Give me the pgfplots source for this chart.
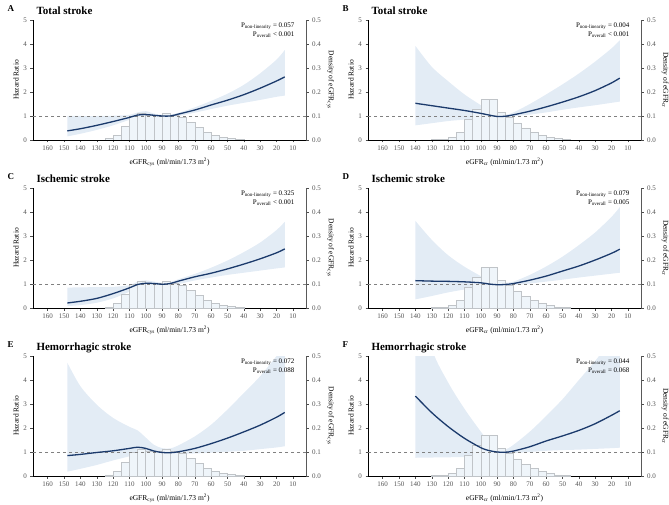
\documentclass[border=0pt]{standalone}
\usepackage{fontspec}
\setmainfont{Liberation Serif}
\usepackage{pgfplots}
\usepackage{pgfplotstable}
\pgfplotsset{compat=1.18}
\usepgfplotslibrary{fillbetween}

\definecolor{navy}{HTML}{1B3A6B}
\definecolor{bandblue}{HTML}{DCE7F3}
\definecolor{histfill}{HTML}{EFF5FA}
\definecolor{histedge}{HTML}{C0C4C8}
\definecolor{ticktext}{HTML}{555555}

% histograms (left edge of 5-unit bin, density)
\pgfplotstableread{
x d
40 0.003
45 0.006
50 0.012
55 0.020
60 0.032
65 0.053
70 0.072
75 0.094
80 0.104
85 0.110
90 0.104
95 0.104
100 0.110
105 0.100
110 0.056
115 0.020
120 0.005
125 0
}\histcys

\pgfplotstableread{
x d
45 0.002
50 0.005
55 0.010
60 0.018
65 0.031
70 0.050
75 0.071
80 0.094
85 0.116
90 0.168
95 0.168
100 0.130
105 0.085
110 0.033
115 0.010
120 0.004
125 0.002
130 0
}\histcr

% spline curves: eGFR, HR, lower CI, upper CI
\pgfplotstableread{
x hr lo hi
148 0.38 0.15 1.00
140 0.47 0.26 1.00
130 0.61 0.42 1.00
120 0.77 0.61 1.01
110 0.94 0.84 1.05
105 1.04 0.93 1.15
100 1.06 0.97 1.20
95 1.03 0.96 1.10
90 1.00 0.95 1.05
85 1.00 0.96 1.06
80 1.08 1.00 1.13
70 1.25 1.14 1.36
60 1.46 1.29 1.63
50 1.66 1.43 1.93
40 1.89 1.55 2.30
30 2.16 1.67 2.78
20 2.46 1.80 3.35
15 2.63 1.85 3.75
}\curveA

\pgfplotstableread{
x hr lo hi
140 1.53 0.61 3.92
130 1.43 0.70 3.05
120 1.33 0.79 2.45
110 1.23 0.85 1.90
100 1.11 0.90 1.45
95 1.04 0.92 1.22
90 0.98 0.92 1.06
85 0.99 0.95 1.05
80 1.05 0.99 1.15
70 1.20 1.06 1.50
60 1.38 1.15 1.90
50 1.58 1.26 2.32
40 1.80 1.36 2.77
30 2.06 1.45 3.27
20 2.38 1.55 3.82
15 2.58 1.60 4.15
}\curveB

\pgfplotstableread{
x hr lo hi
148 0.21 0.08 0.85
140 0.28 0.12 0.86
130 0.40 0.22 0.87
120 0.60 0.40 0.88
110 0.84 0.68 0.95
105 0.98 0.86 1.10
100 1.03 0.92 1.15
95 1.02 0.94 1.10
90 0.99 0.93 1.05
85 1.02 0.96 1.08
80 1.12 1.00 1.20
70 1.30 1.15 1.42
60 1.45 1.27 1.68
50 1.63 1.38 1.98
40 1.83 1.47 2.33
30 2.05 1.56 2.73
20 2.30 1.65 3.25
15 2.46 1.69 3.59
}\curveC

\pgfplotstableread{
x hr lo hi
140 1.14 0.36 3.63
130 1.12 0.50 2.84
120 1.11 0.65 2.20
110 1.09 0.77 1.72
100 1.05 0.85 1.33
95 1.00 0.88 1.16
90 0.97 0.90 1.05
85 0.98 0.92 1.05
80 1.02 0.95 1.10
70 1.16 1.02 1.38
60 1.33 1.10 1.73
50 1.54 1.18 2.14
40 1.75 1.27 2.62
30 2.00 1.35 3.15
20 2.28 1.43 3.80
15 2.45 1.47 4.20
}\curveD

\pgfplotstableread{
x hr lo hi
148 0.85 0.18 4.72
140 0.90 0.30 3.74
130 0.98 0.46 2.97
120 1.05 0.65 2.42
110 1.15 0.82 2.05
105 1.20 0.90 1.90
100 1.15 0.93 1.60
95 1.04 0.94 1.30
90 0.98 0.93 1.16
85 0.97 0.92 1.15
80 1.01 0.92 1.28
70 1.15 0.94 1.65
60 1.35 0.97 2.14
50 1.58 1.01 2.77
40 1.84 1.05 3.46
30 2.12 1.12 4.16
20 2.45 1.19 5.00
15 2.65 1.24 5.40
}\curveE

\pgfplotstableread{
x hr lo hi
140 3.33 0.76 8.00
130 2.64 0.77 5.30
120 2.06 0.78 3.90
110 1.57 0.79 2.80
100 1.18 0.82 1.85
95 1.06 0.85 1.42
90 1.00 0.88 1.12
85 0.99 0.91 1.10
80 1.04 0.95 1.30
70 1.22 1.00 1.85
60 1.46 1.05 2.50
50 1.67 1.08 3.20
40 1.90 1.10 4.00
30 2.18 1.13 4.80
20 2.53 1.16 5.70
15 2.72 1.18 6.20
}\curveF

\pgfplotsset{
  common/.style={
    scale only axis, width=273pt, height=120pt,
    xmin=2, xmax=169, x dir=reverse,
    tick align=outside, major tick length=2.5pt,
    axis line style={-},
    tick style={black!70, line width=0.5pt},
    ticklabel style={font=\fontsize{7}{8}\selectfont, text=ticktext},
    /pgf/number format/assume math mode=true,
    label style={font=\fontsize{7.5}{9}\selectfont},
  },
  histax/.style={common,
    ymin=0, ymax=0.5,
    axis y line*=right, axis x line=none,
    ytick={0,0.1,0.2,0.3,0.4,0.5},
    yticklabel style={/pgf/number format/.cd, fixed, fixed zerofill, precision=1},
    y axis line style={black!65, line width=0.8pt},
    ylabel style={rotate=180}, ylabel shift=-1pt,
  },
  hrax/.style={common,
    ymin=0, ymax=5, clip mode=individual,
    axis y line*=left, axis x line*=bottom,
    ytick={0,1,2,3,4,5},
    xtick={10,20,...,160},
    axis line style={black, line width=0.8pt},
    ylabel={Hazard Ratio}, ylabel shift=-2pt,
  },
}

% #1 x, #2 y, #3 letter, #4 title, #5 curve, #6 histogram, #7 subscript, #8 #9 p values
\newcommand{\panel}[9]{%
  \begin{axis}[histax, at={(#1pt,#2pt)}, ylabel={Density of eGFR\textsubscript{#7}}]
    \addplot[ybar interval, fill=histfill, draw=histedge, line width=0.6pt] table[x=x, y=d] {#6};
  \end{axis}
  \begin{axis}[hrax, at={(#1pt,#2pt)}, xlabel={eGFR\textsubscript{#7} (ml/min/1.73 m\textsuperscript{2})}]
    \addplot[name path=hi, draw=none, smooth] table[x=x, y=hi] {#5};
    \addplot[name path=lo, draw=none, smooth] table[x=x, y=lo] {#5};
    \addplot[bandblue, fill opacity=0.8] fill between[of=hi and lo];
    \addplot[gray, line width=0.8pt, dash pattern=on 3.5pt off 2.5pt] coordinates {(2,1) (169,1)};
    \addplot[navy, line width=1.3pt, smooth] table[x=x, y=hr] {#5};
    \node[anchor=base west, font=\bfseries\fontsize{9}{10}\selectfont, xshift=-29pt, yshift=9pt] at (axis description cs:0,1) {#3};
    \node[anchor=base west, font=\bfseries\fontsize{11}{12}\selectfont, yshift=6pt] at (axis description cs:0,1) {#4};
    \node[anchor=base east, font=\fontsize{7}{8}\selectfont, xshift=-8pt, yshift=-7pt] at (axis description cs:1,1) {#8};
    \node[anchor=base east, font=\fontsize{7}{8}\selectfont, xshift=-8pt, yshift=-16.5pt] at (axis description cs:1,1) {#9};
  \end{axis}
}

\begin{document}
\begin{tikzpicture}
\panel{33}{-140}{A}{Total stroke}{\curveA}{\histcys}{cys}{P\textsubscript{non-linearity} = 0.057}{P\textsubscript{overall} < 0.001}
\panel{368}{-140}{B}{Total stroke}{\curveB}{\histcr}{cr}{P\textsubscript{non-linearity} = 0.004}{P\textsubscript{overall} < 0.001}
\panel{33}{-308}{C}{Ischemic stroke}{\curveC}{\histcys}{cys}{P\textsubscript{non-linearity} = 0.325}{P\textsubscript{overall} < 0.001}
\panel{368}{-308}{D}{Ischemic stroke}{\curveD}{\histcr}{cr}{P\textsubscript{non-linearity} = 0.079}{P\textsubscript{overall} = 0.005}
\panel{33}{-476}{E}{Hemorrhagic stroke}{\curveE}{\histcys}{cys}{P\textsubscript{non-linearity} = 0.072}{P\textsubscript{overall} = 0.088}
\panel{368}{-476}{F}{Hemorrhagic stroke}{\curveF}{\histcr}{cr}{P\textsubscript{non-linearity} = 0.044}{P\textsubscript{overall} = 0.068}
\pgfresetboundingbox
\path (0pt,0pt) rectangle (669pt,-505pt);
\end{tikzpicture}
\end{document}
